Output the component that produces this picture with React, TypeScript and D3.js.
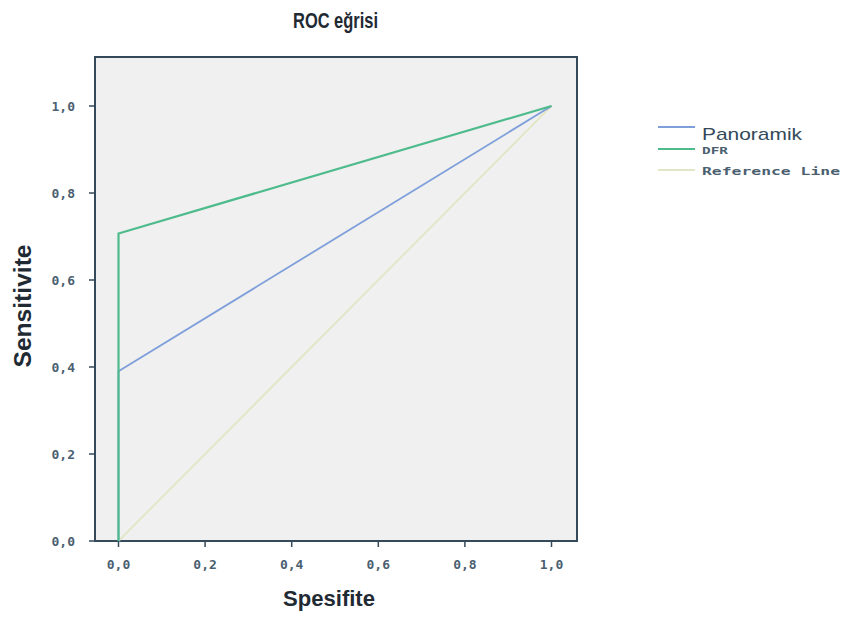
import React from "react";
import * as d3 from "d3";

const title = "ROC eğrisi";
const xLabel = "Spesifite";
const yLabel = "Sensitivite";
const ticks = [0, 0.2, 0.4, 0.6, 0.8, 1.0];
const seriesNames = ["Panoramik", "DFR", "Reference Line"];
const panoramikX = [0, 0, 1];
const panoramikY = [0, 0.39, 1];
const dfrX = [0, 0, 1];
const dfrY = [0, 0.707, 1];
const refX = [0, 1];
const refY = [0, 1];
const colors = ["#7f9fdb", "#4dbb8c", "#e3e6c6"];

export default function App() {
  const W = 843, H = 622;
  const frame = { left: 95, top: 57, right: 577, bottom: 541 };
  const x = d3.scaleLinear().domain([0, 1]).range([118.5, 551.5]);
  const y = d3.scaleLinear().domain([0, 1]).range([541, 106]);
  const line = d3.line<[number, number]>().x(d => x(d[0])).y(d => y(d[1]));
  const zip = (a: number[], b: number[]) => a.map((v, i) => [v, b[i]] as [number, number]);
  const fmt = (v: number) => v.toFixed(1).replace(".", ",");
  const series = [
    { name: seriesNames[2], pts: zip(refX, refY), color: colors[2], w: 1.8 },
    { name: seriesNames[0], pts: zip(panoramikX, panoramikY), color: colors[0], w: 1.8 },
    { name: seriesNames[1], pts: zip(dfrX, dfrY), color: colors[1], w: 2.2 },
  ];
  const axisColor = "#34495a";
  const mono = "'DejaVu Sans Mono', 'Liberation Mono', monospace";
  const sans = "Arial, 'Liberation Sans', sans-serif";
  const tickColor = "#4a6070";
  return (
    <svg width={W} height={H} style={{ position: "absolute", left: 0, top: 0 }}>
      <rect width={W} height={H} fill="#ffffff" />
      <text x={335.5} y={28} textAnchor="middle" fontFamily={sans} fontSize={22} fontWeight="bold"
        textLength={85} lengthAdjust="spacingAndGlyphs" fill="#1f2a33">{title}</text>
      <rect x={frame.left} y={frame.top} width={frame.right - frame.left} height={frame.bottom - frame.top}
        fill="#eff0ef" stroke={axisColor} strokeWidth={2} />
      {series.map(s => (
        <path key={s.name} d={line(s.pts) || ""} fill="none" stroke={s.color} strokeWidth={s.w} />
      ))}
      {ticks.map(t => (
        <g key={"y" + t}>
          <line x1={frame.left - 6} x2={frame.left} y1={y(t)} y2={y(t)} stroke={axisColor} strokeWidth={1.5} />
          <text x={frame.left - 20} y={y(t) + 5} textAnchor="end" fontFamily={mono} fontSize={13} fontWeight="bold" fill={tickColor}>{fmt(t)}</text>
        </g>
      ))}
      {ticks.map(t => (
        <g key={"x" + t}>
          <line x1={x(t)} x2={x(t)} y1={frame.bottom} y2={frame.bottom + 6} stroke={axisColor} strokeWidth={1.5} />
          <text x={x(t)} y={frame.bottom + 28} textAnchor="middle" fontFamily={mono} fontSize={13} fontWeight="bold" fill={tickColor}>{fmt(t)}</text>
        </g>
      ))}
      <text x={329} y={606} textAnchor="middle" fontFamily={sans} fontSize={22} fontWeight="bold"
        textLength={92} lengthAdjust="spacingAndGlyphs" fill="#1f2a33">{xLabel}</text>
      <text transform={`translate(31,306) rotate(-90)`} textAnchor="middle" fontFamily={sans} fontSize={23} fontWeight="bold"
        textLength={123} lengthAdjust="spacingAndGlyphs" fill="#1f2a33">{yLabel}</text>
      {/* legend */}
      <line x1={658} x2={695} y1={127} y2={127} stroke={colors[0]} strokeWidth={2} />
      <text x={702} y={140} fontFamily={sans} fontSize={17} textLength={100} lengthAdjust="spacingAndGlyphs" fill="#34495a">{seriesNames[0]}</text>
      <line x1={658} x2={695} y1={149} y2={149} stroke={colors[1]} strokeWidth={2.2} />
      <text x={702} y={154} fontFamily={mono} fontSize={9} fontWeight="bold" textLength={26} lengthAdjust="spacingAndGlyphs" fill={tickColor}>{seriesNames[1]}</text>
      <line x1={658} x2={695} y1={170} y2={170} stroke={colors[2]} strokeWidth={2} />
      <text x={702} y={175} fontFamily={mono} fontSize={11} fontWeight="bold" textLength={138} lengthAdjust="spacingAndGlyphs" fill={tickColor}>{seriesNames[2]}</text>
    </svg>
  );
}
